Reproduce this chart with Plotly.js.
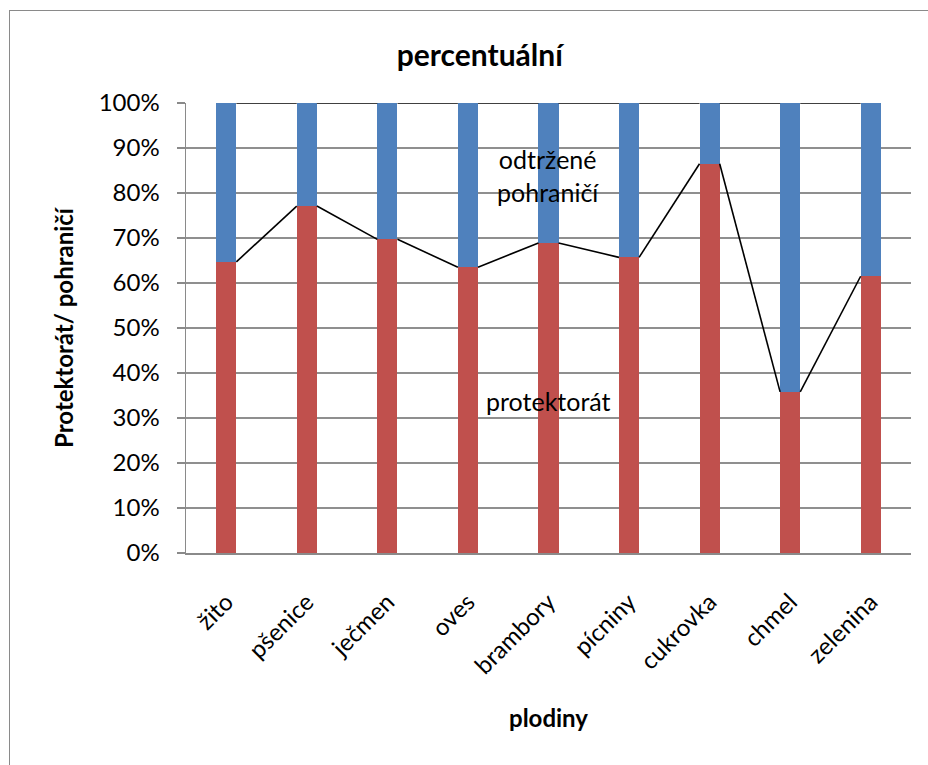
<!DOCTYPE html>
<html>
<head>
<meta charset="utf-8">
<script src="https://cdn.plot.ly/plotly-3.0.1.min.js"></script>
<style>
html,body{margin:0;padding:0;background:#fff;overflow:hidden;}
#wrap{position:relative;width:928px;height:765px;}
#chart{position:absolute;left:0;top:0;width:928px;height:765px;}
#frame{position:absolute;left:9px;top:10px;width:940px;height:780px;border:1.5px solid #8a8a8a;pointer-events:none;}
</style>
</head>
<body>
<div id="wrap"><div id="chart"></div><div id="frame"></div></div>
<script>
const categories = ["žito","pšenice","ječmen","oves","brambory","pícniny","cukrovka","chmel","zelenina"];
const protektorat = [64.7, 77.1, 69.7, 63.5, 68.9, 65.7, 86.5, 35.8, 61.5];
const pohranici   = [35.3, 22.9, 30.3, 36.5, 31.1, 34.3, 13.5, 64.2, 38.5];
const yTicks = [0,10,20,30,40,50,60,70,80,90,100];

const barWidth = 0.25;
const idx = categories.map((c,i)=>i);

// series lines between bar edges (as in Excel stacked columns)
function seriesLine(vals){
  const xs=[], ys=[];
  for(let i=0;i<vals.length-1;i++){
    xs.push(i+barWidth/2, i+1-barWidth/2, null);
    ys.push(vals[i], vals[i+1], null);
  }
  return {xs, ys};
}
const totals = protektorat.map((v,i)=>v+pohranici[i]);
const l1 = seriesLine(protektorat);
const l2 = seriesLine(totals);

const font = "Lato, 'Open Sans', 'Liberation Sans', sans-serif";

const data = [
  {type:'bar', name:'protektorát', x:idx, y:protektorat, width:barWidth, marker:{color:'#C0504D'}, hoverinfo:'skip'},
  {type:'bar', name:'odtržené pohraničí', x:idx, y:pohranici, width:barWidth, marker:{color:'#4F81BD'}, hoverinfo:'skip'},
  {type:'scatter', mode:'lines', x:l1.xs, y:l1.ys, line:{color:'#000', width:1.6}, connectgaps:false, hoverinfo:'skip'},
  {type:'scatter', mode:'lines', x:l2.xs, y:l2.ys, line:{color:'#000', width:1.6}, connectgaps:false, hoverinfo:'skip'}
];

const layout = {
  width:928, height:765,
  margin:{l:186, r:17, t:103, b:212},
  paper_bgcolor:'#fff', plot_bgcolor:'#fff',
  barmode:'stack', showlegend:false,
  font:{family:font, color:'#000', size:24},
  title:{text:'<b>percentuální</b>', font:{family:font, size:30, color:'#000'}, x:0.517, xanchor:'center', y:0.928, yanchor:'middle'},
  xaxis:{
    type:'linear', range:[-0.5, 8.5], tickmode:'array', tickvals:idx, ticktext:categories,
    tickangle:-45, showgrid:false, zeroline:false, showline:true, linecolor:'#8a8a8a', linewidth:1.5,
    ticks:'', ticklabelstandoff:24, tickfont:{family:font, size:24, color:'#000'},
    title:{text:'<b>plodiny</b>', font:{family:font, size:24, color:'#000'}, standoff:32}
  },
  yaxis:{
    range:[0,100], tickmode:'array', tickvals:yTicks, ticktext:yTicks.map(v=>v+'%'),
    showgrid:true, gridcolor:'#8f8f8f', gridwidth:1.2, zeroline:false,
    showline:true, linecolor:'#8a8a8a', linewidth:1.5,
    ticks:'outside', ticklen:8, tickcolor:'#8a8a8a', tickwidth:1.2, ticklabelstandoff:12,
    tickfont:{family:font, size:24, color:'#000'},
    title:{text:'<b>Protektorát/ pohraničí</b>', font:{family:font, size:24, color:'#000'}, standoff:18}
  },
  annotations:[
    {xref:'paper', yref:'paper', x:(548-186)/725, y:(553-142)/450, yanchor:'top', text:'odtržené<br>pohraničí', showarrow:false, font:{family:font, size:25, color:'#000'}, align:'center'},
    {xref:'paper', yref:'paper', x:(548-186)/725, y:(553-401)/450, yanchor:'middle', text:'protektorát', showarrow:false, font:{family:font, size:25, color:'#000'}, align:'center'}
  ]
};

Plotly.newPlot('chart', data, layout, {displayModeBar:false, staticPlot:true});
</script>
</body>
</html>
